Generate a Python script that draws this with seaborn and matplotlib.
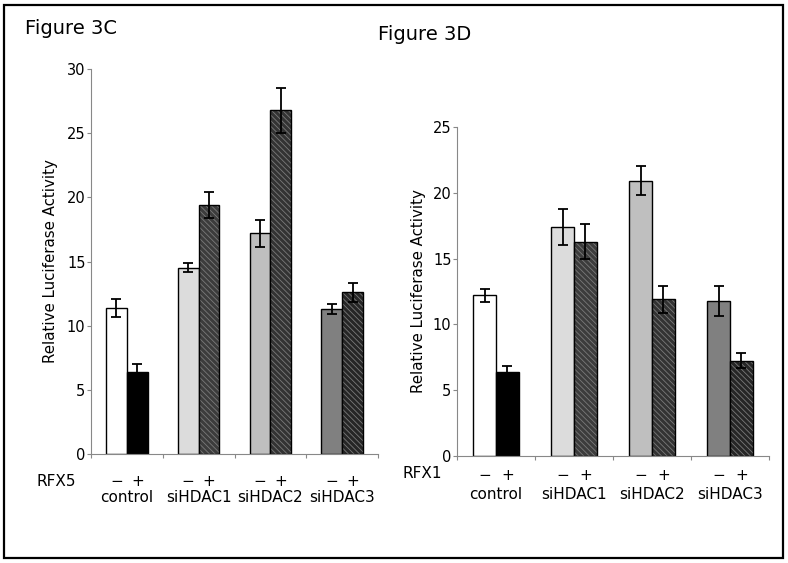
import pandas as pd
import matplotlib.pyplot as plt
import matplotlib
import seaborn as sns
from matplotlib.patches import Rectangle

# values
groups = ['control', 'siHDAC1', 'siHDAC2', 'siHDAC3']
rfx_levels = ['−', '+']

rfx5_minus = [11.4, 14.5, 17.2, 11.3]
rfx5_plus = [6.4, 19.4, 26.8, 12.6]
rfx5_minus_err = [0.7, 0.35, 1.05, 0.4]
rfx5_plus_err = [0.6, 1.0, 1.75, 0.75]

rfx1_minus = [12.2, 17.4, 20.9, 11.8]
rfx1_plus = [6.4, 16.3, 11.9, 7.25]
rfx1_minus_err = [0.5, 1.4, 1.1, 1.15]
rfx1_plus_err = [0.45, 1.3, 1.0, 0.55]

minus_colors = ['#ffffff', '#dcdcdc', '#bfbfbf', '#808080']
plus_colors = ['#000000', '#3c3c3c', '#333333', '#262626']
plus_hatch = [None, '\\\\\\\\\\\\', '\\\\\\\\\\\\', '\\\\\\\\\\\\']

sns.set_style('white')
plt.rcParams['font.family'] = ['DejaVu Sans']
plt.rcParams['hatch.linewidth'] = 0.6
plt.rcParams['text.color'] = 'black'
plt.rcParams['axes.labelcolor'] = 'black'
plt.rcParams['ytick.labelcolor'] = 'black'


def panel(ax, minus, plus, minus_err, plus_err, ymax, sign_off, name_off, labelpad):
    df = pd.DataFrame({
        'group': groups * 2,
        'rfx': [rfx_levels[0]] * 4 + [rfx_levels[1]] * 4,
        'value': minus + plus,
    })
    sns.barplot(data=df, x='group', y='value', hue='rfx', order=groups,
                hue_order=rfx_levels, errorbar=None, width=0.58, gap=0,
                legend=False, ax=ax)
    errs = [minus_err, plus_err]
    vals = [minus, plus]
    bars = list(ax.containers)
    for k, cont in enumerate(bars):
        for i, p in enumerate(cont.patches):
            if k == 0:
                p.set_facecolor(minus_colors[i])
            else:
                p.set_facecolor(plus_colors[i])
                if plus_hatch[i]:
                    p.set_hatch(plus_hatch[i])
            p.set_edgecolor('black')
            p.set_linewidth(1.0)
            if k == 1 and plus_hatch[i]:
                p._hatch_color = matplotlib.colors.to_rgba('#7a7a7a')
            xc = p.get_x() + p.get_width() / 2
            ax.errorbar(xc, vals[k][i], yerr=errs[k][i], color='black',
                        capsize=3.5, elinewidth=1.3, capthick=1.3)
    ax.set_xlim(-0.5, 3.5)
    ax.set_ylim(0, ymax)
    ax.set_yticks(range(0, ymax + 1, 5))
    ax.set_xticks([-0.5, 0.5, 1.5, 2.5, 3.5])
    ax.set_xticklabels([])
    ax.tick_params(axis='both', which='both', direction='out', length=3,
                   width=0.8, color='#888888', labelsize=10.5, pad=1,
                   left=True, bottom=True)
    for s in ['top', 'right']:
        ax.spines[s].set_visible(False)
    for s in ['left', 'bottom']:
        ax.spines[s].set_color('#888888')
        ax.spines[s].set_linewidth(0.8)
    ax.set_xlabel('')
    ax.set_ylabel('Relative Luciferase Activity', fontsize=10.8, labelpad=labelpad)
    trans = matplotlib.transforms.blended_transform_factory(ax.transData, ax.transAxes)
    for k, cont in enumerate(bars):
        for p in cont.patches:
            xc = p.get_x() + p.get_width() / 2
            ax.annotate(rfx_levels[k], (xc, 0), xycoords=trans,
                        xytext=(0, -sign_off * 0.72), textcoords='offset points',
                        ha='center', va='center', fontsize=11)
    for i, g in enumerate(groups):
        ax.annotate(g, (i, 0), xycoords=trans,
                    xytext=(0, -name_off * 0.72), textcoords='offset points',
                    ha='center', va='center', fontsize=11)


fig = plt.figure(figsize=(7.88, 5.63), dpi=100)
ax1 = fig.add_axes([0.1155, 0.1936, 0.3642, 0.6838])
ax2 = fig.add_axes([0.58, 0.19, 0.396, 0.5844])

panel(ax1, rfx5_minus, rfx5_plus, rfx5_minus_err, rfx5_plus_err, 30, 27, 43, 6)
panel(ax2, rfx1_minus, rfx1_plus, rfx1_minus_err, rfx1_plus_err, 25, 19, 38, 5)

fig.text(36 / 788, 1 - 481 / 563, 'RFX5', ha='left', va='center', fontsize=11)
fig.text(403 / 788, 1 - 474 / 563, 'RFX1', ha='left', va='center', fontsize=11)
fig.text(25 / 788, 1 - 28 / 563, 'Figure 3C', ha='left', va='center', fontsize=14)
fig.text(378 / 788, 1 - 34 / 563, 'Figure 3D', ha='left', va='center', fontsize=14)

fig.patches.append(Rectangle((4 / 788, 5 / 563), 779 / 788, 553 / 563,
                             transform=fig.transFigure, fill=False,
                             edgecolor='black', linewidth=1.6))

plt.savefig('out.png', dpi=100)
